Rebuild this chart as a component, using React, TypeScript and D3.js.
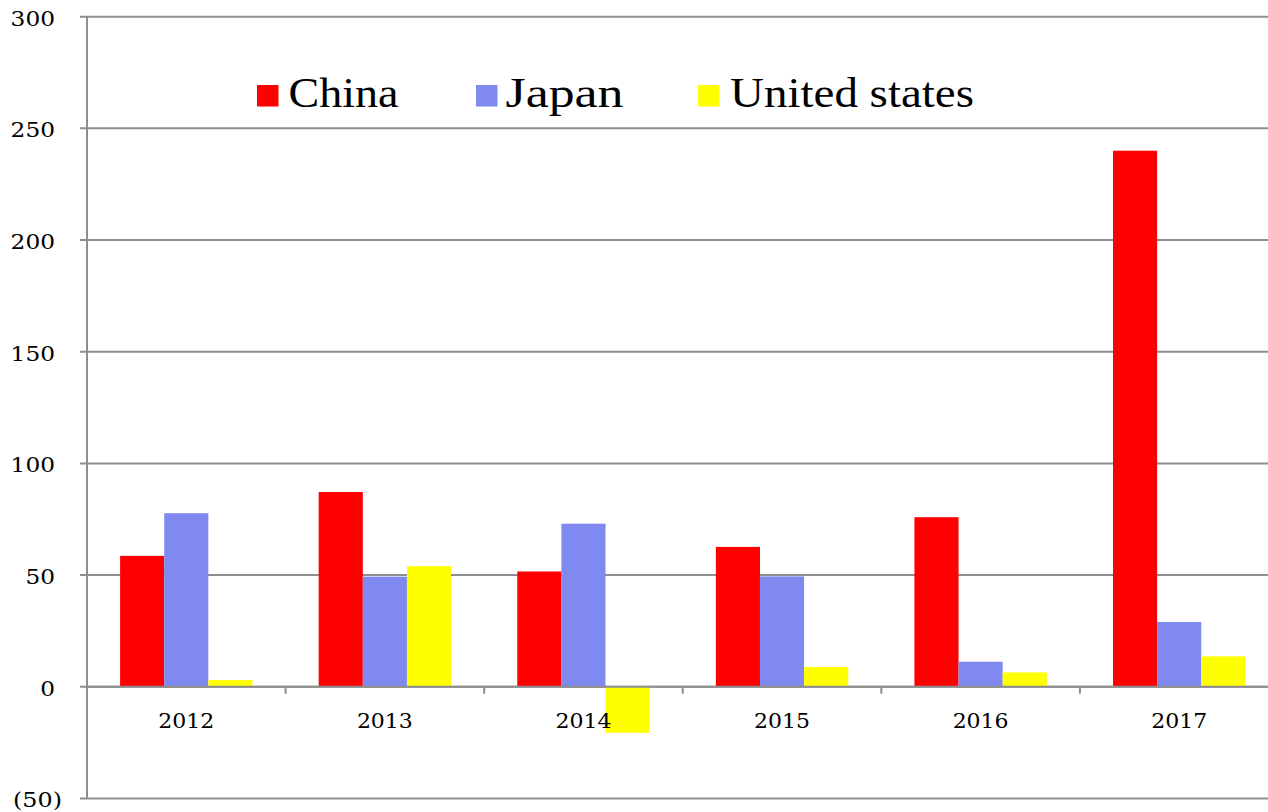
import React from "react";
import * as d3 from "d3";

const years = ["2012", "2013", "2014", "2015", "2016", "2017"];
const seriesNames = ["China", "Japan", "United states"];
const china = [58.6, 87.2, 51.6, 62.6, 75.9, 240];
const japan = [77.7, 49.3, 73.0, 49.4, 11.2, 29.0];
const unitedStates = [3.0, 54.0, -20.6, 8.8, 6.4, 13.6];
const yTicks = [-50, 0, 50, 100, 150, 200, 250, 300];
const colors = ["#ff0000", "#8089ef", "#ffff00"];

const W = 1268;
const H = 812;

export default function App() {
  const series = [china, japan, unitedStates];
  const x0 = 87;
  const x1 = 1278.5;
  const x = d3.scaleBand<string>().domain(years).range([x0, x1]).paddingInner(0).paddingOuter(0);
  const y = d3.scaleLinear().domain([-50, 300]).range([798.4, 16.7]);
  const bw = x.bandwidth();
  const barW = bw / 4.5;
  const inner = d3.scaleBand<string>().domain(seriesNames).range([bw / 2 - 1.5 * barW, bw / 2 + 1.5 * barW]);
  const fmt = (v: number) => (v < 0 ? `(${Math.abs(v)})` : `${v}`);
  const grid = "#8e8e8e";
  const legendItems = [
    { name: seriesNames[0], sx: 257, tx: 288.5, tl: 110 },
    { name: seriesNames[1], sx: 476, tx: 505.5, tl: 118 },
    { name: seriesNames[2], sx: 698, tx: 730, tl: 244 },
  ];
  const labelFont = "'DejaVu Serif', serif";
  return (
    <svg width={W} height={H} style={{ position: "absolute", left: 0, top: 0, background: "#fff" }}>
      {yTicks.map((t) => {
        const s = fmt(t);
        const tl = t < 0 ? 49 : s.length * 14.8;
        return (
          <g key={t}>
            <line x1={80} x2={W} y1={y(t)} y2={y(t)} stroke={grid} strokeWidth={2} />
            <text
              x={t < 0 ? 62 : 55}
              y={y(t) + 9}
              textAnchor="end"
              fontFamily={labelFont}
              fontSize={21}
              textLength={tl}
              lengthAdjust="spacingAndGlyphs"
              fill="#000"
            >
              {s}
            </text>
          </g>
        );
      })}
      <line x1={x0} x2={x0} y1={y(300)} y2={y(-50)} stroke={grid} strokeWidth={2} />
      {years.slice(1).map((yr) => (
        <line key={yr} x1={x(yr)!} x2={x(yr)!} y1={y(0)} y2={y(0) + 7} stroke={grid} strokeWidth={2} />
      ))}
      {years.map((yr, i) => (
        <g key={yr}>
          {series.map((s, j) => {
            const v = s[i];
            const bx = x(yr)! + inner(seriesNames[j])!;
            return (
              <rect
                key={j}
                x={bx}
                y={Math.min(y(v), y(0))}
                width={inner.bandwidth()}
                height={Math.abs(y(v) - y(0))}
                fill={colors[j]}
              />
            );
          })}
        </g>
      ))}
      <line x1={x0} x2={W} y1={y(0)} y2={y(0)} stroke={grid} strokeWidth={2} />
      {years.map((yr) => (
        <text
          key={yr}
          x={x(yr)! + bw / 2}
          y={y(0) + 41}
          textAnchor="middle"
          fontFamily={labelFont}
          fontSize={21}
          textLength={56}
          lengthAdjust="spacingAndGlyphs"
          fill="#000"
        >
          {yr}
        </text>
      ))}
      {legendItems.map((it, i) => (
        <g key={it.name}>
          <rect x={it.sx} y={85} width={21.5} height={21.5} fill={colors[i]} />
          <text
            x={it.tx}
            y={106.7}
            fontFamily="'Liberation Serif', serif"
            fontSize={42}
            textLength={it.tl}
            lengthAdjust="spacingAndGlyphs"
            fill="#000"
          >
            {it.name}
          </text>
        </g>
      ))}
    </svg>
  );
}
